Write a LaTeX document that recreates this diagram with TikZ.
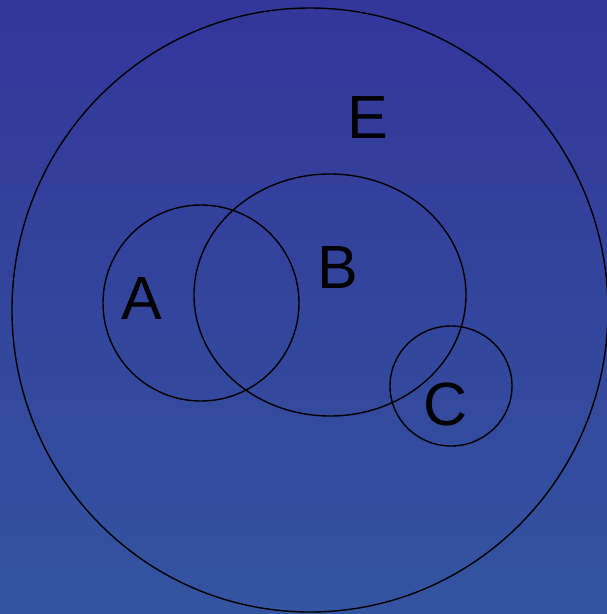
\documentclass[tikz,border=0pt]{standalone}
\usepackage{fontspec}
\setmainfont{Liberation Sans}
\usepackage{tikz}
\definecolor{bgtop}{HTML}{33369A}
\definecolor{bgbot}{HTML}{33549F}

\begin{document}
\begin{tikzpicture}[
  x=1pt, y=-1pt,
  set/.style={draw=black, line width=1.4pt},
  lbl/.style={font=\fontsize{61}{61}\selectfont, text=black, inner sep=0pt}
]
\shade[top color=bgtop, bottom color=bgbot] (0,0) rectangle (607,614);
\useasboundingbox (0,0) rectangle (607,614);

% sets
\draw[set] (310,310) ellipse [x radius=298, y radius=302];
\draw[set] (201,303) ellipse [x radius=98, y radius=98];
\draw[set] (330,295) ellipse [x radius=136, y radius=121];
\draw[set] (451,386) ellipse [x radius=61, y radius=60];

% labels
\node[lbl] (e) at (368,118) {E};
\node[lbl] (b) at (338,268) {B};
\node[lbl] (a) at (142,299) {A};
\node[lbl] (c) at (446,404) {C};
\end{tikzpicture}
\end{document}
